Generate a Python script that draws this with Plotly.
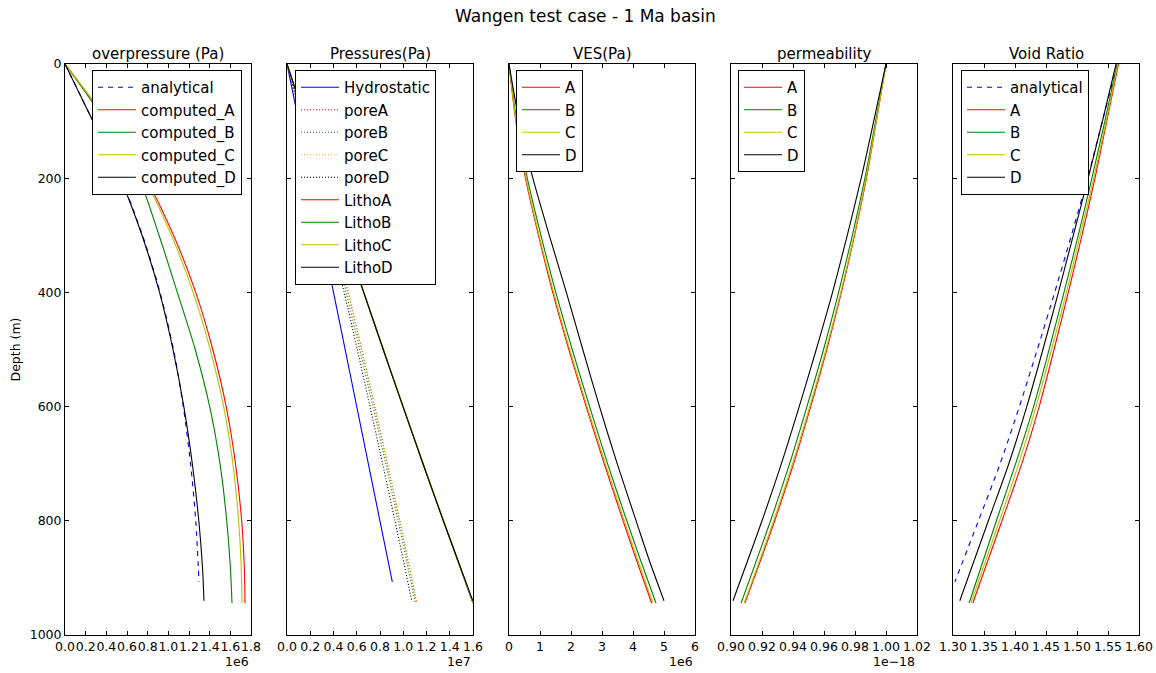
import plotly.graph_objects as go

# ---------------- depth grids (m) ----------------
z_op = [0, 50, 100, 200, 300, 400, 500, 600, 700, 800, 880, 944]
z_op_D = [0, 50, 100, 200, 300, 400, 500, 600, 700, 800, 880, 940]
z_analytical = [0, 100, 200, 300, 400, 500, 600, 700, 800, 907]
z = [0, 100, 200, 300, 400, 500, 600, 700, 800, 944]
z_D = [0, 100, 200, 300, 400, 500, 600, 700, 800, 940]
z_ves = [0, 100, 200, 300, 400, 500, 600, 700, 800, 870, 944]
z_ves_D = [0, 100, 200, 300, 400, 500, 600, 700, 800, 870, 940]
z_hydro = [0, 300, 600, 907]

# ---------------- overpressure (Pa) ----------------
op_analytical = [0, 0.27e6, 0.54e6, 0.75e6, 0.92e6, 1.05e6, 1.145e6, 1.215e6, 1.265e6, 1.297e6]
op_A = [0, 0.21e6, 0.41e6, 0.78e6, 1.05e6, 1.265e6, 1.43e6, 1.56e6, 1.65e6, 1.71e6, 1.735e6, 1.742e6]
op_B = [0, 0.20e6, 0.39e6, 0.715e6, 0.91e6, 1.087e6, 1.26e6, 1.40e6, 1.50e6, 1.565e6, 1.60e6, 1.616e6]
op_C = [0, 0.21e6, 0.40e6, 0.765e6, 1.03e6, 1.24e6, 1.405e6, 1.535e6, 1.625e6, 1.68e6, 1.705e6, 1.713e6]
op_D = [0, 0.135e6, 0.27e6, 0.535e6, 0.745e6, 0.915e6, 1.045e6, 1.15e6, 1.232e6, 1.295e6, 1.33e6, 1.345e6]

# ---------------- pressures (Pa) ----------------
p_hydro = [0, 3.0e6, 6.0e6, 9.06e6]
pore_A = [0, 1.41e6, 2.78e6, 4.05e6, 5.265e6, 6.43e6, 7.55e6, 8.64e6, 9.70e6, 11.17e6]
pore_B = [0, 1.39e6, 2.715e6, 3.91e6, 5.087e6, 6.26e6, 7.39e6, 8.49e6, 9.555e6, 11.046e6]
pore_C = [0, 1.40e6, 2.765e6, 4.03e6, 5.24e6, 6.405e6, 7.525e6, 8.615e6, 9.67e6, 11.143e6]
pore_D = [0, 1.27e6, 2.535e6, 3.745e6, 4.915e6, 6.045e6, 7.14e6, 8.222e6, 9.285e6, 10.735e6]
litho_A = [0, 1.63e6, 3.27e6, 4.93e6, 6.60e6, 8.28e6, 9.98e6, 11.70e6, 13.45e6, 16.0e6]
litho_B = [0, 1.63e6, 3.27e6, 4.93e6, 6.60e6, 8.28e6, 9.98e6, 11.70e6, 13.45e6, 16.0e6]
litho_C = [0, 1.635e6, 3.28e6, 4.945e6, 6.62e6, 8.30e6, 10.0e6, 11.72e6, 13.47e6, 16.02e6]
litho_D = [0, 1.63e6, 3.27e6, 4.93e6, 6.60e6, 8.28e6, 9.98e6, 11.70e6, 13.45e6, 15.98e6]

# ---------------- vertical effective stress (Pa) ----------------
ves_A = [0, 0.22e6, 0.53e6, 0.95e6, 1.41e6, 1.93e6, 2.49e6, 3.07e6, 3.68e6, 4.12e6, 4.60e6]
ves_B = [0, 0.25e6, 0.59e6, 1.03e6, 1.51e6, 2.04e6, 2.60e6, 3.18e6, 3.80e6, 4.25e6, 4.74e6]
ves_C = [0, 0.23e6, 0.55e6, 0.97e6, 1.44e6, 1.96e6, 2.52e6, 3.11e6, 3.72e6, 4.16e6, 4.64e6]
ves_D = [0, 0.33e6, 0.77e6, 1.30e6, 1.85e6, 2.38e6, 2.92e6, 3.49e6, 4.10e6, 4.53e6, 5.00e6]

# ---------------- permeability (m2) ----------------
perm_A = [1.000e-18, 0.9938e-18, 0.9874e-18, 0.9797e-18, 0.9712e-18, 0.9618e-18, 0.9514e-18, 0.9404e-18, 0.9282e-18, 0.9090e-18]
perm_B = [1.000e-18, 0.9933e-18, 0.9864e-18, 0.9783e-18, 0.9694e-18, 0.9597e-18, 0.9490e-18, 0.9378e-18, 0.9255e-18, 0.9065e-18]
perm_C = [1.000e-18, 0.9937e-18, 0.9871e-18, 0.9794e-18, 0.9708e-18, 0.9613e-18, 0.9508e-18, 0.9397e-18, 0.9275e-18, 0.9085e-18]
perm_D = [1.000e-18, 0.9921e-18, 0.9840e-18, 0.9750e-18, 0.9655e-18, 0.9550e-18, 0.9440e-18, 0.9325e-18, 0.9200e-18, 0.9013e-18]

# ---------------- void ratio (-) ----------------
e_analytical = [1.565, 1.541, 1.517, 1.491, 1.464, 1.436, 1.407, 1.376, 1.341, 1.303]
e_A = [1.567, 1.548, 1.529, 1.508, 1.486, 1.463, 1.439, 1.411, 1.379, 1.332]
e_B = [1.565, 1.545, 1.524, 1.502, 1.479, 1.455, 1.430, 1.401, 1.370, 1.326]
e_C = [1.566, 1.547, 1.527, 1.505, 1.483, 1.459, 1.434, 1.406, 1.375, 1.329]
e_D = [1.563, 1.541, 1.518, 1.494, 1.470, 1.445, 1.419, 1.390, 1.357, 1.311]

# ---------------- axis ticks ----------------
op_ticks = [0, 0.2e6, 0.4e6, 0.6e6, 0.8e6, 1.0e6, 1.2e6, 1.4e6, 1.6e6, 1.8e6]
op_labels = ["0.0", "0.2", "0.4", "0.6", "0.8", "1.0", "1.2", "1.4", "1.6", "1.8"]
p_ticks = [0, 0.2e7, 0.4e7, 0.6e7, 0.8e7, 1.0e7, 1.2e7, 1.4e7, 1.6e7]
p_labels = ["0.0", "0.2", "0.4", "0.6", "0.8", "1.0", "1.2", "1.4", "1.6"]
ves_ticks = [0, 1e6, 2e6, 3e6, 4e6, 5e6, 6e6]
ves_labels = ["0", "1", "2", "3", "4", "5", "6"]
perm_ticks = [0.90e-18, 0.92e-18, 0.94e-18, 0.96e-18, 0.98e-18, 1.00e-18, 1.02e-18]
perm_labels = ["0.90", "0.92", "0.94", "0.96", "0.98", "1.00", "1.02"]
e_ticks = [1.30, 1.35, 1.40, 1.45, 1.50, 1.55, 1.60]
e_labels = ["1.30", "1.35", "1.40", "1.45", "1.50", "1.55", "1.60"]
depth_ticks = [0, 200, 400, 600, 800, 1000]

panel_titles = ["overpressure (Pa)", "Pressures(Pa)", "VES(Pa)", "permeability", "Void Ratio"]
offset_labels = ["1e6", "1e7", "1e6", "1e\u221218", ""]

BLUE, RED, GREEN, YELLOW, BLACK = "#0000ff", "#ff0000", "#008000", "#bfbf00", "#000000"
FONT = "DejaVu Sans"
W, H = 1156, 673

fig = go.Figure()


def add(x, y, name, color, panel, dash="solid", legend="legend"):
    suffix = "" if panel == 1 else str(panel)
    fig.add_trace(go.Scatter(
        x=x, y=y, name=name, mode="lines",
        line=dict(color=color, width=1.1, dash=dash, shape="spline", smoothing=0.8),
        xaxis="x" + suffix, yaxis="y" + suffix, legend=legend,
    ))


# panel 1: overpressure
add(op_analytical, z_analytical, "analytical", BLUE, 1, dash="5px,5px")
add(op_A, z_op, "computed_A", RED, 1)
add(op_B, z_op, "computed_B", GREEN, 1)
add(op_C, z_op, "computed_C", YELLOW, 1)
add(op_D, z_op_D, "computed_D", BLACK, 1)

# panel 2: pressures
add(p_hydro, z_hydro, "Hydrostatic", BLUE, 2, legend="legend2")
add(pore_A, z, "poreA", RED, 2, dash="1px,2px", legend="legend2")
add(pore_B, z, "poreB", GREEN, 2, dash="1px,2px", legend="legend2")
add(pore_C, z, "poreC", YELLOW, 2, dash="1px,2px", legend="legend2")
add(pore_D, z_D, "poreD", BLACK, 2, dash="1px,2px", legend="legend2")
add(litho_A, z, "LithoA", RED, 2, legend="legend2")
add(litho_B, z, "LithoB", GREEN, 2, legend="legend2")
add(litho_C, z, "LithoC", YELLOW, 2, legend="legend2")
add(litho_D, z_D, "LithoD", BLACK, 2, legend="legend2")

# panel 3: VES
add(ves_A, z_ves, "A", RED, 3, legend="legend3")
add(ves_B, z_ves, "B", GREEN, 3, legend="legend3")
add(ves_C, z_ves, "C", YELLOW, 3, legend="legend3")
add(ves_D, z_ves_D, "D", BLACK, 3, legend="legend3")

# panel 4: permeability
add(perm_A, z, "A", RED, 4, legend="legend4")
add(perm_B, z, "B", GREEN, 4, legend="legend4")
add(perm_C, z, "C", YELLOW, 4, legend="legend4")
add(perm_D, z_D, "D", BLACK, 4, legend="legend4")

# panel 5: void ratio
add(e_analytical, z_analytical, "analytical", BLUE, 5, dash="5px,5px", legend="legend5")
add(e_A, z, "A", RED, 5, legend="legend5")
add(e_B, z, "B", GREEN, 5, legend="legend5")
add(e_C, z, "C", YELLOW, 5, legend="legend5")
add(e_D, z_D, "D", BLACK, 5, legend="legend5")

# ---------------- layout ----------------
panel_px = [(65, 251), (287, 473), (509, 695), (731, 917), (953, 1139)]
y_top, y_bot = 64, 635
ydom = [1 - y_bot / H, 1 - y_top / H]

x_ranges = [[0, 1.8e6], [0, 1.6e7], [0, 6e6], [0.90e-18, 1.02e-18], [1.30, 1.60]]
x_ticks = [(op_ticks, op_labels), (p_ticks, p_labels), (ves_ticks, ves_labels),
           (perm_ticks, perm_labels), (e_ticks, e_labels)]

axis_common = dict(
    showline=True, mirror="ticks", linecolor="black", linewidth=1,
    ticks="inside", ticklen=4, tickwidth=1, tickcolor="black",
    showgrid=False, zeroline=False, automargin=False, tickangle=0,
    tickfont=dict(family=FONT, size=12.5, color="black"),
)

layout = dict(
    width=W, height=H, margin=dict(l=0, r=0, t=0, b=0),
    paper_bgcolor="white", plot_bgcolor="white",
    font=dict(family=FONT, color="black"),
    annotations=[],
)

for i, ((l, r), rng, (tv, tt)) in enumerate(zip(panel_px, x_ranges, x_ticks), start=1):
    sfx = "" if i == 1 else str(i)
    layout["xaxis" + sfx] = dict(
        domain=[l / W, r / W], range=rng, tickvals=tv, ticktext=tt,
        anchor="y" + sfx, **axis_common,
    )
    ydict = dict(
        domain=ydom, range=[1000, 0], tickvals=depth_ticks,
        anchor="x" + sfx, showticklabels=(i == 1), **axis_common,
    )
    if i == 1:
        ydict["title"] = dict(text="Depth (m)", font=dict(family=FONT, size=12.5), standoff=6)
    else:
        ydict["matches"] = "y"
    layout["yaxis" + sfx] = ydict

    layout["annotations"].append(dict(
        text=panel_titles[i - 1], x=(l + r) / 2 / W, y=1 - 54 / H,
        xref="paper", yref="paper", xanchor="center", yanchor="middle",
        showarrow=False, font=dict(family=FONT, size=15),
    ))
    if offset_labels[i - 1]:
        layout["annotations"].append(dict(
            text=offset_labels[i - 1], x=r / W, y=1 - 661 / H,
            xref="paper", yref="paper", xanchor="right", yanchor="middle",
            showarrow=False, font=dict(family=FONT, size=12.5),
        ))

layout["annotations"].append(dict(
    text="Wangen test case - 1 Ma basin", x=585 / W, y=1 - 16 / H,
    xref="paper", yref="paper", xanchor="center", yanchor="middle",
    showarrow=False, font=dict(family=FONT, size=17),
))

legend_pos = {"legend": (92, 70), "legend2": (295, 70), "legend3": (516, 70),
              "legend4": (738, 70), "legend5": (961, 70)}
for key, (lx, ly) in legend_pos.items():
    layout[key] = dict(
        x=lx / W, y=1 - ly / H, xanchor="left", yanchor="top",
        bgcolor="white", bordercolor="black", borderwidth=1,
        font=dict(family=FONT, size=15, color="black"),
        tracegroupgap=0, itemwidth=38,
    )

fig.update_layout(**layout)
fig.write_html("out.html")
